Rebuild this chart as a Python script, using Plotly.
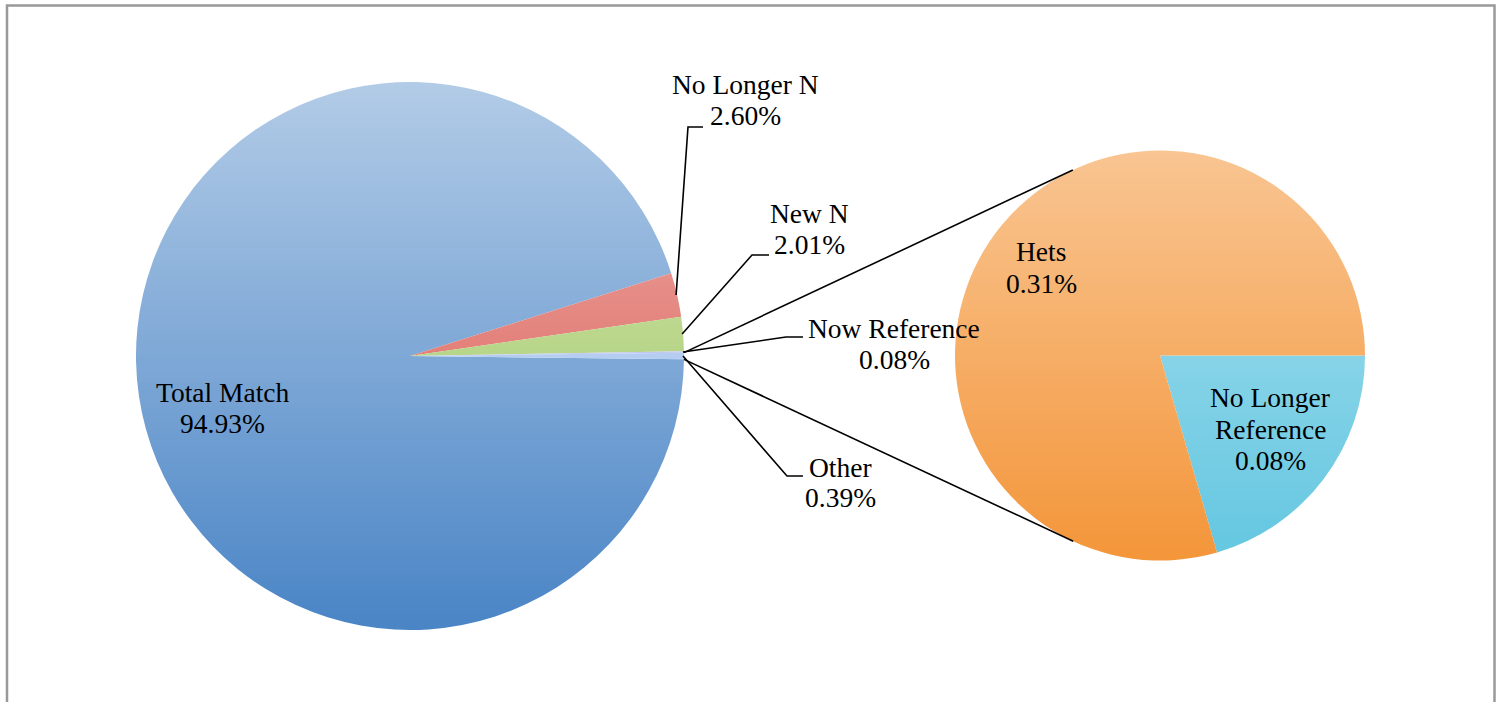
import math
import plotly.graph_objects as go

# ---------------- data ----------------
main_labels = ["Total Match", "No Longer N", "New N", "Now Reference", "Other"]
main_values = [94.93, 2.60, 2.01, 0.08, 0.39]

sub_labels = ["No Longer Reference", "Hets"]
sub_values = [0.08, 0.31]

# ---------------- style ----------------
W, H = 1502, 702
FONT = "Liberation Serif"
FS = 27.5
main_colors = ["#4a85c6", "#d84c43", "#9bc558", "#abaee7", "#98b9ed"]
sub_colors = ["#64c7e1", "#f4963a"]

MAIN_C, MAIN_R = (410, 356), 274
SUB_C, SUB_R = (1160, 355.5), 205

# label placement (pixel): x centre, first-line centre, line step, leader elbow/end
label_pos = {
    "Total Match": (222, 392, 31, None),
    "No Longer N": (745, 85, 31, ((688, 127), (703, 127))),
    "New N": (810, 214, 31, ((752, 255), (769, 255))),
    "Now Reference": (894, 328, 32, ((786, 337), (803, 337))),
    "Other": (840, 467, 30, ((787, 476), (803, 476))),
    "Hets": (1041, 251, 32, None),
    "No Longer Reference": (1270, 398, 31, None),
}
line_split = {"No Longer Reference": ["No Longer", "Reference"]}


def px(x):
    return x / W


def py(y):
    return 1 - y / H


def domain(c, r):
    return dict(x=[px(c[0] - r), px(c[0] + r)], y=[py(c[1] + r), py(c[1] - r)])


def mid_angle(values, idx, rot):
    tot = sum(values)
    cw = rot + (sum(values[:idx]) + values[idx] / 2) / tot * 360
    return math.radians(90 - cw)


def pt(c, r, ang):
    return (c[0] + r * math.cos(ang), c[1] - r * math.sin(ang))


main_total = sum(main_values)
other_half = main_values[-1] / main_total * 180
main_rot = 90 + other_half
sub_rot = 90

fig = go.Figure()
fig.add_trace(go.Pie(
    labels=main_labels, values=main_values, sort=False, direction="clockwise",
    rotation=main_rot, domain=domain(MAIN_C, MAIN_R),
    marker=dict(colors=main_colors, line=dict(width=0)),
    textinfo="none", hoverinfo="label+value", showlegend=False,
))
fig.add_trace(go.Pie(
    labels=sub_labels, values=sub_values, sort=False, direction="clockwise",
    rotation=sub_rot, domain=domain(SUB_C, SUB_R),
    marker=dict(colors=sub_colors, line=dict(width=0)),
    textinfo="none", hoverinfo="label+value", showlegend=False,
))

shapes = []


def gradient(c, r, a_top, step=4):
    top = math.floor(c[1] - r)
    bottom = math.ceil(c[1] + r)
    out = []
    y = top
    while y < bottom:
        y2 = min(y + step, bottom)
        a = a_top * (bottom - (y + y2) / 2) / (bottom - top)
        out.append(dict(type="rect", xref="paper", yref="paper",
                        x0=px(c[0] - r - 1), x1=px(c[0] + r + 1), y0=py(y2), y1=py(y),
                        fillcolor=f"rgba(255,255,255,{a:.3f})", line=dict(width=0),
                        layer="above"))
        y = y2
    return out


shapes += gradient(MAIN_C, MAIN_R, 0.58)
shapes += gradient(SUB_C, SUB_R, 0.45)

annotations = []


def add_label(name, value, pie_values=None, idx=None, center=None, radius=None, rot=None):
    x, y0, step, leader = label_pos[name]
    lines = line_split.get(name, [name]) + [f"{value:.2f}%"]
    for i, t in enumerate(lines):
        annotations.append(dict(
            x=px(x), y=py(y0 + i * step), xref="paper", yref="paper", text=t,
            showarrow=False, xanchor="center", yanchor="middle",
            font=dict(family=FONT, size=FS, color="#000000"),
        ))
    if leader is not None:
        s = pt(center, radius - 1, mid_angle(pie_values, idx, rot))
        (ex, ey), (fx, fy) = leader
        shapes.append(dict(
            type="path", xref="paper", yref="paper",
            path=f"M {px(s[0])},{py(s[1])} L {px(ex)},{py(ey)} L {px(fx)},{py(fy)}",
            line=dict(color="#000000", width=1.6), layer="above",
        ))


for i, (lab, v) in enumerate(zip(main_labels, main_values)):
    add_label(lab, v, main_values, i, MAIN_C, MAIN_R, main_rot)
for i, (lab, v) in enumerate(zip(sub_labels, sub_values)):
    add_label(lab, v)

# connector lines from the "Other" slice to the secondary pie (tangents)
for sign in (1, -1):
    P = pt(MAIN_C, MAIN_R, math.radians(sign * other_half))
    dx, dy = P[0] - SUB_C[0], -(P[1] - SUB_C[1])
    d = math.hypot(dx, dy)
    base = math.atan2(dy, dx)
    phi = math.acos(SUB_R / d)
    T = pt(SUB_C, SUB_R, base - sign * phi)
    shapes.append(dict(type="line", xref="paper", yref="paper",
                       x0=px(P[0]), y0=py(P[1]), x1=px(T[0]), y1=py(T[1]),
                       line=dict(color="#000000", width=1.6), layer="above"))

# chart frame
shapes.append(dict(type="rect", xref="paper", yref="paper",
                   x0=px(7), x1=px(1494.5), y0=py(730), y1=py(5.5),
                   line=dict(color="#999999", width=2.5), fillcolor="rgba(0,0,0,0)",
                   layer="above"))

fig.update_layout(
    width=W, height=H, margin=dict(l=0, r=0, t=0, b=0),
    paper_bgcolor="#ffffff", plot_bgcolor="#ffffff", showlegend=False,
    shapes=shapes, annotations=annotations,
)

fig.write_html(
    "out.html",
    config={"displayModeBar": False},
    post_script="document.body.style.margin='0px';document.body.style.overflow='hidden';",
)
